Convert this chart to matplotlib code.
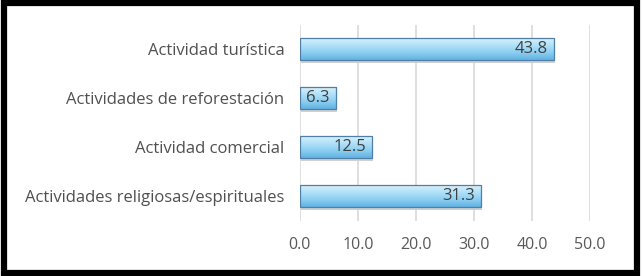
import numpy as np
import matplotlib.pyplot as plt
from matplotlib.colors import LinearSegmentedColormap
from matplotlib.patches import Rectangle

categories = ["Actividades religiosas/espirituales", "Actividad comercial",
              "Actividades de reforestación", "Actividad turística"]
values = [31.3, 12.5, 6.3, 43.8]
ticks = [0, 10, 20, 30, 40, 50]

plt.rcParams["font.family"] = ["Open Sans", "DejaVu Sans"]

fig = plt.figure(figsize=(6.42, 2.76), dpi=100)
ax = fig.add_axes([0.467, 0.201, 0.452, 0.71])

# outer frame like the pasted chart
fig.patches.append(Rectangle((0.006, 0.012), 0.986, 0.978, transform=fig.transFigure,
                             fill=False, lw=4.5, ec="black", zorder=10))

grad = LinearSegmentedColormap.from_list("bar", ["#dff3fc", "#b3e2f8", "#8ccff2", "#62b2e2"])
g = np.linspace(0, 1, 64).reshape(-1, 1)
h = 0.45

for i, v in enumerate(values):
    # shadow
    ax.add_patch(Rectangle((0.15, i - h / 2 - 0.06), v, h, color="#d0d0d0", zorder=2, lw=0))
    bar = ax.barh(i, v, height=h, color="none", edgecolor="#4f7fa6", lw=0.9, zorder=4)[0]
    im = ax.imshow(g, cmap=grad, aspect="auto", extent=[0, v, i - h / 2, i + h / 2],
                   origin="upper", zorder=3)
    im.set_clip_path(bar)
    ax.text(v - 1.1, i, f"{v:.1f}", ha="right", va="center", fontsize=12,
            color="#404040", zorder=5)

ax.set_xlim(0, 50)
ax.set_ylim(-0.5, 3.5)
ax.set_xticks(ticks)
ax.set_xticklabels([f"{t:.1f}" for t in ticks], fontsize=11.5, color="#595959")
ax.set_yticks(range(len(categories)))
ax.set_yticklabels(categories, fontsize=12, color="#505050")
ax.tick_params(length=0, pad=12)
ax.tick_params(axis="y", pad=11)
ax.grid(axis="x", color="#d9d9d9", lw=1.2, zorder=0)
ax.set_axisbelow(True)
for s in ax.spines.values():
    s.set_visible(False)

fig.savefig("out.png", dpi=100)
